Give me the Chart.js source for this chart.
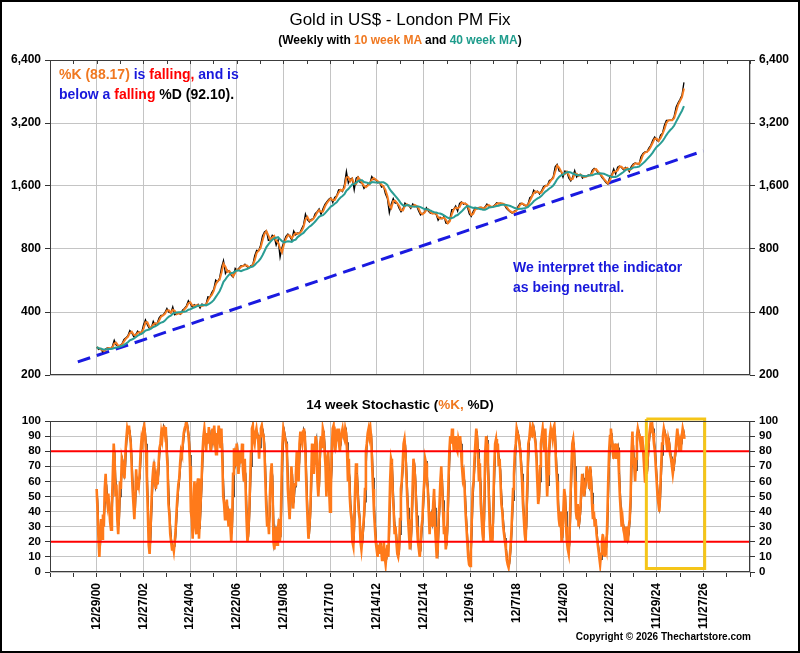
<!DOCTYPE html>
<html>
<head>
<meta charset="utf-8">
<title>Gold in US$ - London PM Fix</title>
<script src="https://cdn.jsdelivr.net/npm/chart.js@4.4.1/dist/chart.umd.min.js"></script>
<style>
  html, body { margin: 0; padding: 0; background: #fff; }
  #page { position: relative; width: 800px; height: 653px; overflow: hidden; background: #fff;
          font-family: "Liberation Sans", Arial, sans-serif; color: #000; }
  #edge { position: absolute; left: 0; top: 0; width: 800px; height: 653px; box-sizing: border-box;
          border: 2px solid #000; pointer-events: none; }
  .box { position: absolute; }
  .txt { position: absolute; white-space: nowrap; }
  .org { color: #F07820; }
  .red { color: #FF0000; }
  .blu { color: #1818DC; }
  .tea { color: #1E9C8C; }
</style>
</head>
<body>
<div id="page">
  <div class="box" style="left:0;top:0;width:800px;height:390px;"><canvas id="priceChart"></canvas></div>
  <div class="box" style="left:0;top:390px;width:800px;height:263px;"><canvas id="stochChart"></canvas></div>

  <div class="txt" style="left:0;width:800px;top:10px;line-height:20px;font-size:17px;text-align:center;">Gold in US$ - London PM Fix</div>
  <div class="txt" style="left:0;width:800px;top:32px;line-height:16px;font-size:12px;font-weight:bold;text-align:center;">(Weekly with <span class="org">10 week MA</span> and <span class="tea">40 week MA</span>)</div>

  <div class="txt" style="left:59px;top:64px;line-height:20px;font-size:14px;font-weight:bold;">
    <span class="org">%K (88.17)</span> <span class="blu">is</span> <span class="red">falling,</span> <span class="blu">and is</span><br>
    <span class="blu">below a</span> <span class="red">falling</span> %D (92.10).
  </div>
  <div class="txt blu" style="left:513px;top:257px;line-height:20px;font-size:14px;font-weight:bold;">We interpret the indicator<br>as being neutral.</div>

  <div class="txt" style="left:0;width:800px;top:397px;line-height:16px;font-size:13.5px;font-weight:bold;text-align:center;">14 week Stochastic (<span class="org">%K,</span> %D)</div>

  <div class="txt" style="left:540px;width:211px;top:630px;line-height:14px;font-size:10px;font-weight:bold;text-align:right;">Copyright © 2026 Thechartstore.com</div>
  <div id="edge"></div>
</div>

<script>
// x axis is in weeks counted from 12/29/00
const dateLabels = ['12/29/00', '12/27/02', '12/24/04', '12/22/06', '12/19/08', '12/17/10', '12/14/12',
                    '12/12/14', '12/9/16', '12/7/18', '12/4/20', '12/2/22', '11/29/24', '11/27/26'];
const priceTicks = [200, 400, 800, 1600, 3200, 6400];
const bandLevels = [20, 80];

// dashed support line (week, price)
const trendWeeks = [-42, 1352];
const trendPrices = [231, 2352];

// highlight box on the stochastic panel (weeks, %)
const boxWeeks = [1225, 1355];
const boxLevels = [2.4, 101.3];

// month-end gold price, Dec 2000 then Jan..Dec per year, ending Jan 2026
const goldMonthly = [
  272,
  265, 267, 258, 263, 268, 270, 266, 273, 293, 278, 275, 277,          // 2001
  282, 296, 301, 308, 326, 318, 305, 312, 324, 317, 318, 347,          // 2002
  367, 347, 334, 336, 361, 346, 354, 375, 385, 386, 398, 416,          // 2003
  399, 396, 423, 388, 393, 395, 390, 408, 416, 428, 453, 438,          // 2004
  422, 434, 427, 435, 418, 437, 429, 434, 473, 470, 495, 513,          // 2005
  569, 557, 582, 654, 705, 610, 633, 623, 599, 586, 646, 632,          // 2006
  650, 665, 662, 677, 659, 650, 665, 672, 743, 789, 783, 834,          // 2007
  923, 965, 980, 880, 885, 930, 918, 834, 884, 730, 814, 870,          // 2008
  919, 942, 916, 884, 975, 934, 955, 949, 996, 1040, 1175, 1104,       // 2009
  1078, 1109, 1115, 1180, 1207, 1244, 1169, 1246, 1307, 1346, 1383, 1405, // 2010
  1333, 1411, 1439, 1535, 1536, 1505, 1628, 1880, 1650, 1722, 1746, 1531, // 2011
  1744, 1770, 1662, 1651, 1558, 1598, 1622, 1648, 1776, 1719, 1721, 1657, // 2012
  1664, 1581, 1598, 1469, 1394, 1192, 1314, 1395, 1326, 1324, 1253, 1204, // 2013
  1244, 1326, 1292, 1289, 1250, 1315, 1285, 1285, 1217, 1164, 1182, 1199, // 2014
  1260, 1214, 1187, 1180, 1191, 1171, 1098, 1135, 1115, 1142, 1062, 1060, // 2015
  1111, 1234, 1237, 1285, 1215, 1320, 1342, 1309, 1323, 1273, 1178, 1146, // 2016
  1212, 1255, 1244, 1266, 1266, 1242, 1269, 1311, 1283, 1270, 1275, 1297, // 2017
  1331, 1317, 1324, 1316, 1299, 1250, 1224, 1202, 1187, 1215, 1221, 1279, // 2018
  1321, 1320, 1295, 1283, 1305, 1409, 1427, 1528, 1485, 1511, 1464, 1515, // 2019
  1589, 1610, 1608, 1702, 1716, 1768, 1975, 2030, 1887, 1880, 1763, 1888, // 2020
  1864, 1743, 1691, 1770, 1899, 1763, 1814, 1816, 1743, 1781, 1774, 1806, // 2021
  1796, 1900, 1942, 1911, 1842, 1817, 1753, 1711, 1660, 1633, 1769, 1812, // 2022
  1929, 1826, 1969, 1992, 1962, 1912, 1965, 1940, 1870, 1983, 2036, 2062, // 2023
  2040, 2035, 2214, 2291, 2326, 2326, 2427, 2503, 2643, 2744, 2650, 2610, // 2024
  2800, 2860, 3120, 3290, 3290, 3300, 3300, 3450, 3820, 4000, 4150, 4350, // 2025
  5000                                                                  // 2026
];

// 14 week stochastic %K, one value every 2 weeks (26 per year)
const stochK = [
  55, 40, 22, 10, 25, 35, 22, 38, 30, 55, 65, 50, 45, 52, 42, 33, 28, 45, 65, 85, 75, 50, 58, 35, 25, 40, // 2001
  60, 55, 75, 72, 68, 62, 78, 88, 95, 92, 97, 90, 85, 70, 55, 45, 35, 50, 68, 55, 62, 58, 66, 80, 88, 85, // 2002
  95, 97, 90, 80, 60, 40, 18, 12, 28, 45, 60, 68, 73, 58, 55, 62, 58, 72, 82, 85, 92, 88, 95, 97, 92, 96, // 2003
  80, 70, 45, 38, 25, 20, 15, 18, 14, 20, 28, 40, 50, 58, 62, 72, 80, 78, 85, 92, 95, 97, 100, 96, 92, 85, // 2004
  70, 40, 35, 22, 50, 60, 30, 25, 58, 62, 22, 35, 48, 62, 80, 90, 95, 88, 80, 92, 85, 96, 88, 80, 85, 95, // 2005
  90, 97, 85, 78, 92, 88, 97, 90, 82, 95, 75, 50, 45, 35, 42, 48, 38, 30, 42, 30, 20, 35, 65, 82, 75, 70, // 2006
  85, 78, 65, 75, 80, 72, 85, 68, 60, 75, 55, 35, 20, 26, 40, 60, 80, 95, 97, 88, 85, 92, 95, 90, 88, 75, // 2007
  90, 95, 97, 92, 90, 80, 60, 42, 30, 35, 25, 50, 65, 72, 55, 20, 15, 25, 30, 18, 28, 35, 20, 26, 60, 85, // 2008
  95, 92, 88, 85, 80, 55, 45, 35, 50, 70, 60, 42, 55, 58, 65, 80, 72, 60, 85, 93, 88, 85, 93, 95, 90, 70, // 2009
  50, 35, 22, 30, 40, 60, 85, 75, 65, 78, 90, 85, 60, 50, 62, 85, 90, 82, 95, 92, 80, 70, 50, 75, 80, 55, // 2010
  40, 55, 80, 95, 97, 85, 80, 92, 90, 95, 85, 80, 88, 92, 95, 90, 88, 95, 92, 80, 60, 75, 50, 40, 35, 20, // 2011
  17, 35, 55, 72, 65, 50, 40, 35, 20, 15, 22, 30, 38, 55, 80, 85, 92, 95, 90, 95, 88, 70, 55, 40, 30, 20, // 2012
  15, 10, 18, 12, 20, 15, 8, 12, 20, 10, 5, 12, 18, 10, 35, 60, 75, 72, 50, 40, 25, 30, 20, 12, 10, 15,   // 2013
  35, 55, 60, 72, 85, 88, 80, 65, 50, 35, 25, 15, 20, 35, 55, 75, 70, 60, 45, 30, 20, 15, 10, 18, 30, 35, // 2014
  50, 60, 75, 72, 60, 55, 40, 25, 40, 35, 30, 45, 55, 30, 20, 9, 15, 35, 45, 60, 70, 55, 40, 25, 30, 15,  // 2015
  20, 35, 60, 80, 90, 85, 95, 88, 80, 85, 90, 82, 80, 88, 85, 90, 80, 70, 62, 65, 55, 40, 30, 20, 10, 5,  // 2016
  4, 15, 35, 55, 60, 75, 85, 95, 88, 75, 60, 72, 45, 35, 25, 20, 50, 80, 90, 85, 70, 50, 30, 20, 25, 20,  // 2017
  45, 70, 85, 88, 80, 85, 70, 75, 60, 45, 40, 30, 25, 20, 15, 8, 5, 3, 8, 15, 25, 40, 55, 65, 80, 85,     // 2018
  95, 92, 90, 85, 80, 70, 60, 45, 35, 25, 20, 40, 60, 85, 88, 95, 90, 92, 97, 95, 90, 85, 75, 60, 45, 50, // 2019
  70, 85, 90, 95, 88, 80, 95, 70, 50, 65, 80, 90, 95, 92, 88, 95, 97, 85, 70, 60, 45, 35, 30, 40, 20, 25, // 2020
  40, 55, 50, 30, 20, 15, 12, 25, 50, 70, 85, 88, 80, 60, 40, 35, 45, 30, 35, 42, 55, 65, 60, 50, 55, 60, // 2021
  70, 65, 60, 55, 70, 60, 45, 35, 40, 30, 35, 25, 20, 15, 10, 5, 12, 20, 25, 15, 10, 18, 15, 35, 60, 80,  // 2022
  90, 95, 88, 80, 75, 85, 80, 75, 85, 80, 65, 50, 40, 30, 35, 28, 25, 20, 30, 25, 20, 30, 35, 50, 80, 93, // 2023
  75, 70, 60, 75, 90, 95, 92, 90, 85, 80, 90, 80, 70, 60, 80, 65, 75, 85, 92, 97, 95, 98, 92, 85, 80, 70, // 2024
  60, 50, 45, 40, 55, 70, 85, 90, 95, 92, 90, 85, 80, 88, 85, 78, 75, 70, 65, 70, 75, 80, 88, 95, 88, 80, // 2025
  85, 80, 90, 95, 92, 88.17                                                                               // 2026
];

const WEEK_MIN = -104;
const WEEK_MAX = 1456;
const WEEKS_PER_MONTH = 52.1775 / 12;
const STOCH_STEP = 2;

const GRID = '#c4c4c4';
const ORANGE = '#F47B20';
const TEAL = '#2A9D94';
const BLUE = '#1A1AE0';

function movingAvg(arr, n) {
  return arr.map((v, i) => {
    const part = arr.slice(Math.max(0, i - n + 1), i + 1);
    return part.reduce((a, b) => a + b, 0) / part.length;
  });
}

const pricePts = goldMonthly.map((v, i) => ({ x: i * WEEKS_PER_MONTH, y: v }));
const ma10Pts = movingAvg(goldMonthly, 2).map((v, i) => ({ x: i * WEEKS_PER_MONTH, y: v }));
const ma40Pts = movingAvg(goldMonthly, 9).map((v, i) => ({ x: i * WEEKS_PER_MONTH, y: v }));
const trendPts = trendWeeks.map((w, i) => ({ x: w, y: trendPrices[i] }));

const kPts = stochK.map((v, i) => ({ x: i * STOCH_STEP, y: v }));
const dPts = movingAvg(stochK, 2).map((v, i) => ({ x: i * STOCH_STEP, y: v }));
const boxPts = [
  { x: boxWeeks[0], y: boxLevels[1] }, { x: boxWeeks[1], y: boxLevels[1] },
  { x: boxWeeks[1], y: boxLevels[0] }, { x: boxWeeks[0], y: boxLevels[0] },
  { x: boxWeeks[0], y: boxLevels[1] }
];

Chart.defaults.font.family = '"Liberation Sans", Arial, sans-serif';
Chart.defaults.color = '#000';

// plot frame, plus the little year ticks hanging from the top edge
const framePlugin = {
  id: 'frame',
  afterDatasetsDraw(chart, args, opts) {
    const { ctx, chartArea: a } = chart;
    ctx.save();
    ctx.strokeStyle = '#3c3c3c';
    ctx.lineWidth = 1;
    ctx.strokeRect(a.left + 0.5, a.top + 0.5, a.width - 1, a.height - 1);
    if (opts.topTicks) {
      const xs = chart.scales.x;
      xs.ticks.forEach(t => {
        const px = Math.round(xs.getPixelForValue(t.value)) + 0.5;
        ctx.beginPath();
        ctx.moveTo(px, a.top);
        ctx.lineTo(px, a.top + 4);
        ctx.stroke();
      });
    }
    ctx.restore();
  }
};

const vGrid = c => (c.tick && c.tick.value % 104 === 0) ? GRID : 'rgba(0,0,0,0)';
const tickFont = { size: 12, weight: 'bold' };

function priceAxis(side) {
  return {
    type: 'logarithmic',
    position: side,
    min: 200,
    max: 6400,
    afterBuildTicks: s => { s.ticks = priceTicks.map(v => ({ value: v })); },
    ticks: { callback: v => Number(v).toLocaleString('en-US'), font: tickFont, padding: 4, color: '#000' },
    grid: { color: GRID, drawOnChartArea: side === 'left', tickLength: 5, tickColor: '#333' },
    border: { display: false },
    afterFit: s => { s.width = 50; }
  };
}

function stochAxis(side) {
  return {
    position: side,
    min: 0,
    max: 100,
    ticks: { stepSize: 10, autoSkip: false, font: { size: 11.5, weight: 'bold' }, padding: 4, color: '#000' },
    grid: { color: GRID, drawOnChartArea: side === 'left', tickLength: 5, tickColor: '#333' },
    border: { display: false },
    afterFit: s => { s.width = 50; }
  };
}

new Chart(document.getElementById('priceChart'), {
  type: 'line',
  data: {
    datasets: [
      { label: '40 week MA', data: ma40Pts, borderColor: TEAL, borderWidth: 2, order: 1 },
      { label: '10 week MA', data: ma10Pts, borderColor: ORANGE, borderWidth: 2, order: 2 },
      { label: 'Gold', data: pricePts, borderColor: '#000', borderWidth: 1.3, order: 3 },
      { label: 'Trend', data: trendPts, borderColor: BLUE, borderWidth: 3, borderDash: [13, 7], order: 4 }
    ]
  },
  options: {
    animation: false,
    responsive: true,
    maintainAspectRatio: false,
    elements: { point: { radius: 0 }, line: { tension: 0 } },
    layout: { padding: { top: 60, bottom: 15, left: 0, right: 0 } },
    plugins: { legend: { display: false }, tooltip: { enabled: false }, frame: { topTicks: true } },
    scales: {
      x: {
        type: 'linear', min: WEEK_MIN, max: WEEK_MAX,
        ticks: { display: false, stepSize: 52 },
        grid: { color: vGrid, drawTicks: false },
        border: { display: false },
        afterFit: s => { s.height = 0; }
      },
      y: priceAxis('left'),
      y2: priceAxis('right')
    }
  },
  plugins: [framePlugin]
});

const bandSets = bandLevels.map(lvl => ({
  label: 'level ' + lvl,
  data: [{ x: WEEK_MIN, y: lvl }, { x: WEEK_MAX, y: lvl }],
  borderColor: '#FF0000', borderWidth: 2, order: 0
}));

new Chart(document.getElementById('stochChart'), {
  type: 'line',
  data: {
    datasets: [
      { label: 'box', data: boxPts, borderColor: '#F5C518', borderWidth: 3, order: -1, clip: false },
      ...bandSets,
      { label: '%K', data: kPts, borderColor: '#FF7A1A', borderWidth: 2.6, order: 1 },
      { label: '%D', data: dPts, borderColor: '#2a1a10', borderWidth: 1.6, order: 2 }
    ]
  },
  options: {
    animation: false,
    responsive: true,
    maintainAspectRatio: false,
    elements: { point: { radius: 0 }, line: { tension: 0 } },
    layout: { padding: { top: 31, bottom: 0, left: 0, right: 0 } },
    plugins: { legend: { display: false }, tooltip: { enabled: false }, frame: { topTicks: false } },
    scales: {
      x: {
        type: 'linear', min: WEEK_MIN, max: WEEK_MAX,
        ticks: {
          stepSize: 52, autoSkip: false, minRotation: 90, maxRotation: 90, padding: 6,
          font: tickFont, color: '#000',
          callback: v => (v >= 0 && v % 104 === 0) ? (dateLabels[v / 104] || '') : ''
        },
        grid: { color: vGrid, tickLength: 5, tickColor: '#333' },
        border: { display: false },
        afterFit: s => { s.height = 81; }
      },
      y: stochAxis('left'),
      y2: stochAxis('right')
    }
  },
  plugins: [framePlugin]
});
</script>
</body>
</html>
